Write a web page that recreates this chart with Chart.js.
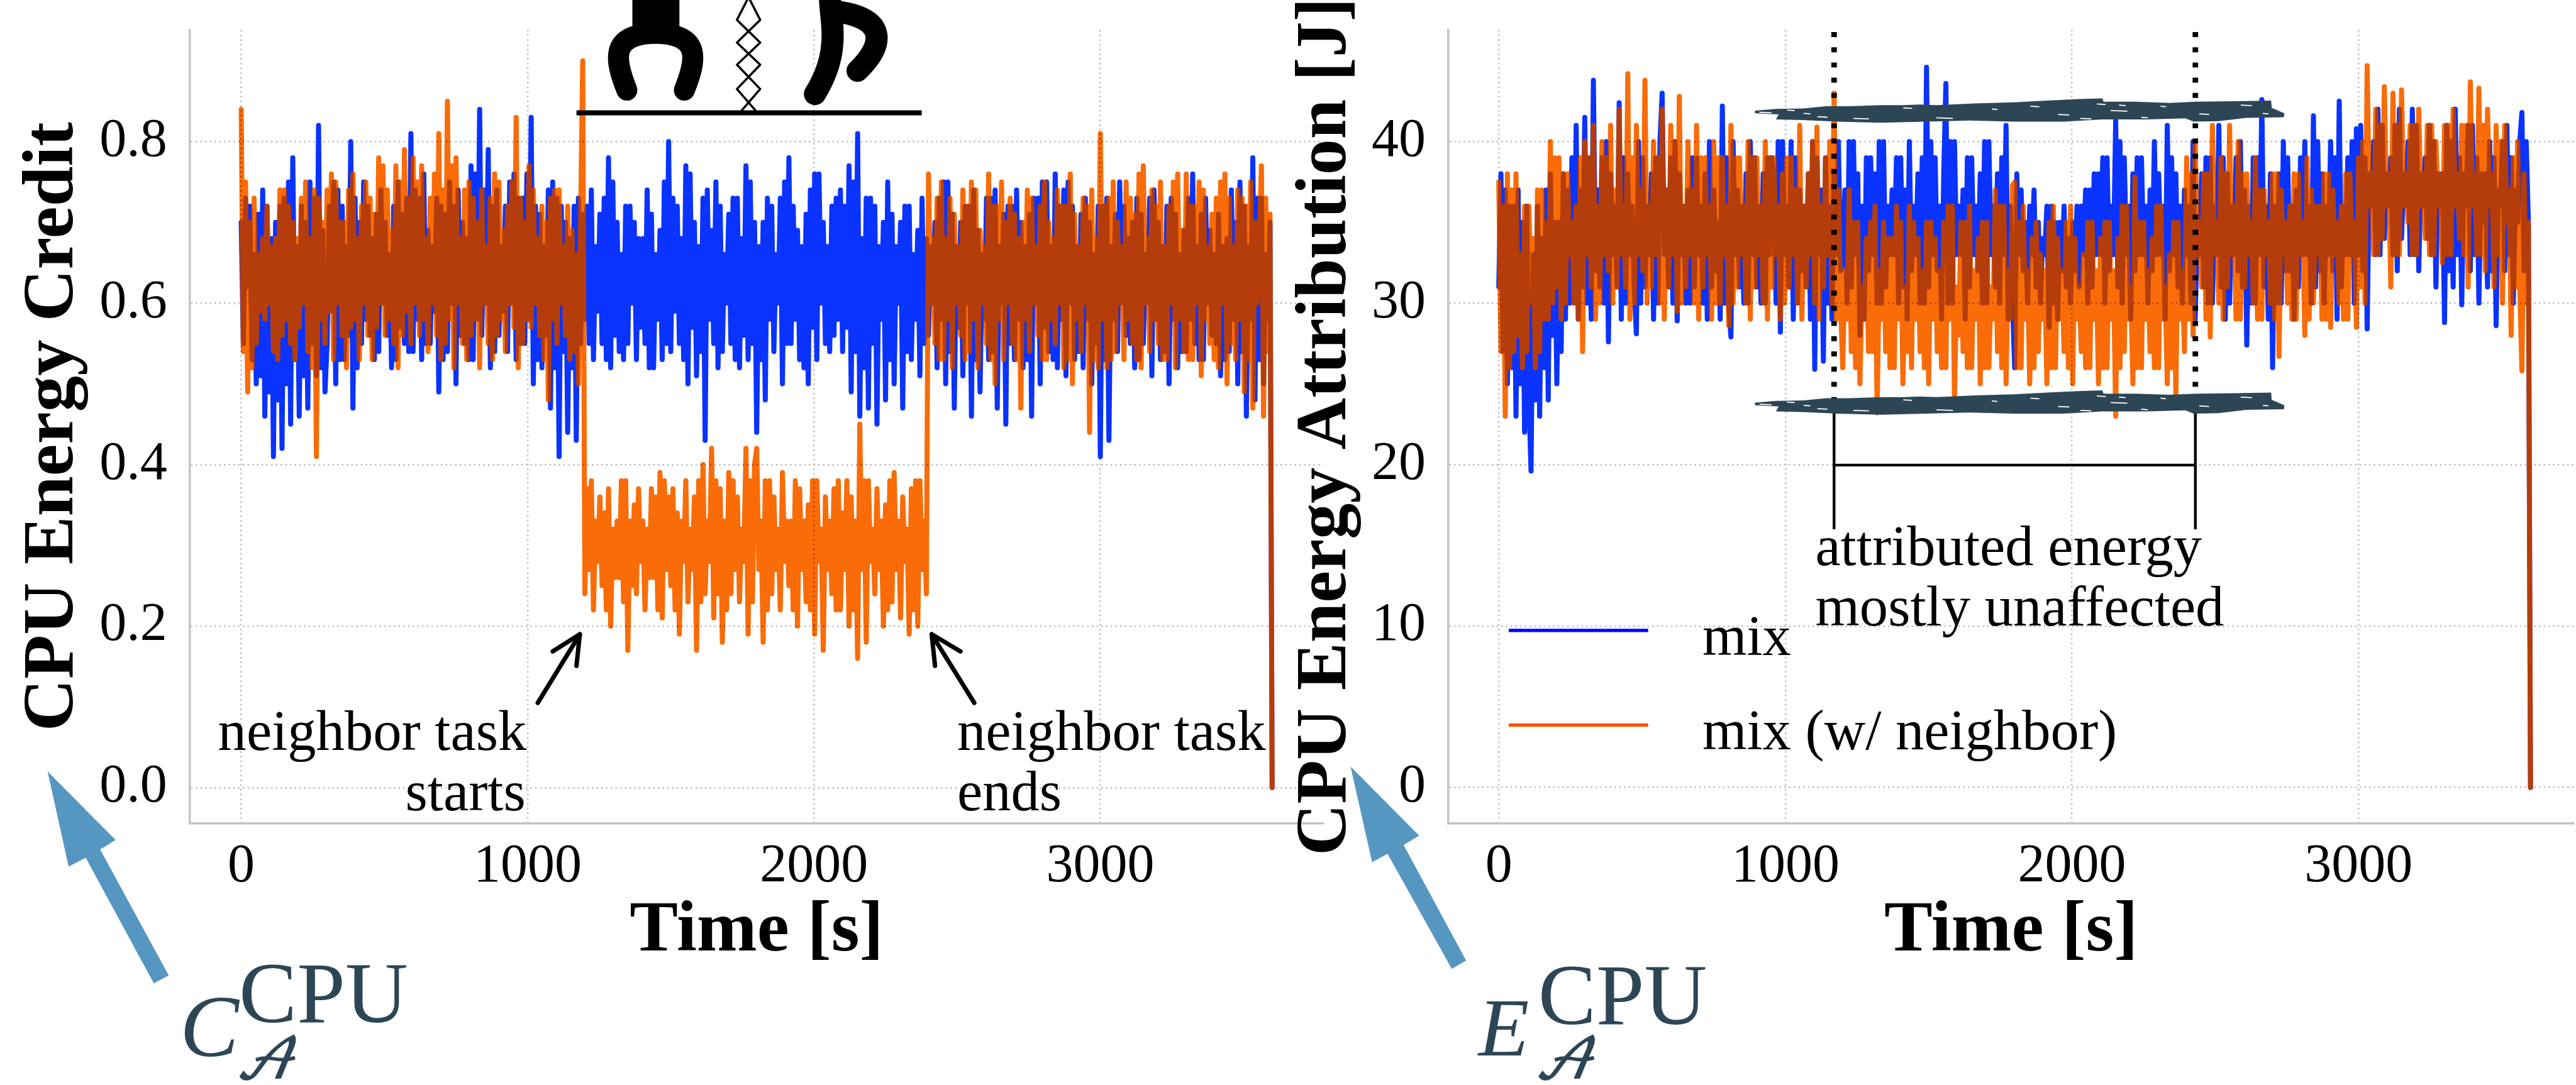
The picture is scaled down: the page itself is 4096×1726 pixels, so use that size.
<!DOCTYPE html>
<html lang="en">
<head>
<meta charset="UTF-8">
<title>CPU Energy Credit and Attribution</title>
<script src="https://cdnjs.cloudflare.com/ajax/libs/Chart.js/4.4.0/chart.umd.min.js"></script>
<style>
    html, body { margin: 0; padding: 0; background: #fff; overflow: hidden; }
    canvas { position: absolute; top: 0; }
    #credit { left: 0; }
    #attribution { left: 2050px; }
</style>
</head>
<body>
<canvas id="credit" width="2110" height="1726"></canvas>
<canvas id="attribution" width="2046" height="1726"></canvas>
<script>
const times = [
    0,7.5,15,22.5,30,37.5,45,52.5,60,67.5,75,82.5,90,97.5,105,112.5,120,127.5,135,142.5,150,157.5,165,172.5,180,187.5,195,202.5,210,217.5,225,232.5,240,247.5,255,262.5,270,277.5,285,292.5,
    300,307.5,315,322.5,330,337.5,345,352.5,360,367.5,375,382.5,390,397.5,405,412.5,420,427.5,435,442.5,450,457.5,465,472.5,480,487.5,495,502.5,510,517.5,525,532.5,540,547.5,555,562.5,570,577.5,585,592.5,
    600,607.5,615,622.5,630,637.5,645,652.5,660,667.5,675,682.5,690,697.5,705,712.5,720,727.5,735,742.5,750,757.5,765,772.5,780,787.5,795,802.5,810,817.5,825,832.5,840,847.5,855,862.5,870,877.5,885,892.5,
    900,907.5,915,922.5,930,937.5,945,952.5,960,967.5,975,982.5,990,997.5,1005,1012.5,1020,1027.5,1035,1042.5,1050,1057.5,1065,1072.5,1080,1087.5,1095,1102.5,1110,1117.5,1125,1132.5,1140,1147.5,1155,1162.5,1170,1177.5,1185,1192.5,
    1200,1207.5,1215,1222.5,1230,1237.5,1245,1252.5,1260,1267.5,1275,1282.5,1290,1297.5,1305,1312.5,1320,1327.5,1335,1342.5,1350,1357.5,1365,1372.5,1380,1387.5,1395,1402.5,1410,1417.5,1425,1432.5,1440,1447.5,1455,1462.5,1470,1477.5,1485,1492.5,
    1500,1507.5,1515,1522.5,1530,1537.5,1545,1552.5,1560,1567.5,1575,1582.5,1590,1597.5,1605,1612.5,1620,1627.5,1635,1642.5,1650,1657.5,1665,1672.5,1680,1687.5,1695,1702.5,1710,1717.5,1725,1732.5,1740,1747.5,1755,1762.5,1770,1777.5,1785,1792.5,
    1800,1807.5,1815,1822.5,1830,1837.5,1845,1852.5,1860,1867.5,1875,1882.5,1890,1897.5,1905,1912.5,1920,1927.5,1935,1942.5,1950,1957.5,1965,1972.5,1980,1987.5,1995,2002.5,2010,2017.5,2025,2032.5,2040,2047.5,2055,2062.5,2070,2077.5,2085,2092.5,
    2100,2107.5,2115,2122.5,2130,2137.5,2145,2152.5,2160,2167.5,2175,2182.5,2190,2197.5,2205,2212.5,2220,2227.5,2235,2242.5,2250,2257.5,2265,2272.5,2280,2287.5,2295,2302.5,2310,2317.5,2325,2332.5,2340,2347.5,2355,2362.5,2370,2377.5,2385,2392.5,
    2400,2407.5,2415,2422.5,2430,2437.5,2445,2452.5,2460,2467.5,2475,2482.5,2490,2497.5,2505,2512.5,2520,2527.5,2535,2542.5,2550,2557.5,2565,2572.5,2580,2587.5,2595,2602.5,2610,2617.5,2625,2632.5,2640,2647.5,2655,2662.5,2670,2677.5,2685,2692.5,
    2700,2707.5,2715,2722.5,2730,2737.5,2745,2752.5,2760,2767.5,2775,2782.5,2790,2797.5,2805,2812.5,2820,2827.5,2835,2842.5,2850,2857.5,2865,2872.5,2880,2887.5,2895,2902.5,2910,2917.5,2925,2932.5,2940,2947.5,2955,2962.5,2970,2977.5,2985,2992.5,
    3000,3007.5,3015,3022.5,3030,3037.5,3045,3052.5,3060,3067.5,3075,3082.5,3090,3097.5,3105,3112.5,3120,3127.5,3135,3142.5,3150,3157.5,3165,3172.5,3180,3187.5,3195,3202.5,3210,3217.5,3225,3232.5,3240,3247.5,3255,3262.5,3270,3277.5,3285,3292.5,
    3300,3307.5,3315,3322.5,3330,3337.5,3345,3352.5,3360,3367.5,3375,3382.5,3390,3397.5,3405,3412.5,3420,3427.5,3435,3442.5,3450,3457.5,3465,3472.5,3480,3487.5,3495,3502.5,3510,3517.5,3525,3532.5,3540,3547.5,3555,3562.5,3570,3577.5,3585,3592.5,3600
];

const creditMix = [
    .70,.55,.73,.62,.72,.53,.66,.50,.71,.51,.74,.46,.72,.49,.68,.41,.70,.48,.72,.42,.73,.50,.75,.45,.78,.53,.67,.46,.72,.51,.70,.47,.75,.55,.73,.51,.82,.52,.69,.49,
    .55,.72,.59,.75,.50,.74,.53,.72,.53,.67,.56,.80,.47,.73,.52,.70,.55,.75,.58,.72,.56,.68,.53,.71,.54,.74,.60,.70,.56,.66,.52,.72,.53,.75,.57,.71,.55,.73,.54,.81,
    .54,.74,.58,.73,.53,.76,.55,.69,.55,.67,.59,.73,.49,.72,.53,.71,.54,.75,.60,.72,.50,.74,.56,.70,.55,.68,.53,.77,.53,.76,.58,.84,.56,.74,.60,.79,.52,.72,.54,.74,
    .56,.67,.59,.72,.54,.75,.60,.76,.53,.73,.55,.73,.55,.76,.58,.83,.50,.72,.53,.71,.52,.67,.56,.74,.47,.75,.52,.73,.41,.72,.54,.70,.44,.68,.52,.72,.43,.73,.55,.71,
    .58,.72,.55,.74,.53,.67,.59,.71,.55,.73,.53,.78,.52,.75,.56,.70,.54,.66,.53,.72,.55,.72,.60,.70,.53,.68,.57,.68,.55,.74,.52,.71,.52,.66,.58,.69,.53,.75,.55,.80,
    .54,.73,.59,.72,.55,.68,.53,.77,.50,.76,.57,.70,.51,.67,.54,.73,.43,.74,.58,.69,.55,.75,.52,.72,.54,.66,.60,.71,.55,.73,.53,.73,.52,.68,.56,.77,.53,.75,.55,.70,
    .44,.67,.53,.70,.48,.73,.58,.72,.54,.66,.60,.73,.50,.75,.55,.78,.55,.72,.58,.69,.53,.67,.52,.71,.50,.74,.57,.76,.53,.76,.60,.70,.55,.67,.54,.72,.56,.73,.58,.74,
    .54,.72,.57,.77,.49,.75,.54,.81,.46,.68,.52,.73,.47,.73,.55,.72,.45,.67,.58,.70,.48,.75,.53,.71,.50,.67,.60,.70,.47,.72,.54,.72,.53,.66,.58,.69,.51,.73,.55,.68,
    .56,.67,.60,.70,.52,.73,.58,.75,.50,.75,.54,.71,.47,.67,.57,.70,.51,.72,.60,.72,.46,.74,.53,.69,.49,.66,.58,.73,.53,.73,.54,.74,.47,.67,.60,.71,.45,.72,.55,.72,
    .53,.74,.58,.70,.52,.67,.53,.71,.46,.73,.60,.73,.50,.75,.57,.75,.54,.67,.53,.76,.52,.72,.58,.74,.51,.75,.60,.72,.53,.67,.54,.71,.52,.73,.58,.70,.50,.66,.55,.72,
    .41,.72,.53,.73,.43,.67,.58,.71,.54,.75,.60,.72,.56,.68,.55,.70,.52,.73,.53,.71,.55,.66,.60,.73,.51,.74,.58,.70,.53,.67,.54,.72,.50,.73,.58,.71,.52,.66,.54,.69,
    .54,.73,.58,.76,.55,.67,.53,.71,.53,.73,.60,.69,.56,.66,.55,.71,.51,.67,.53,.68,.54,.74,.58,.70,.50,.75,.54,.72,.46,.67,.58,.78,.48,.73,.53,.73,.50,.66,.58,.70,0
];
const creditNeighbor = [
    .84,.54,.75,.49,.70,.52,.73,.55,.66,.59,.68,.58,.72,.60,.67,.54,.68,.53,.74,.56,.74,.58,.72,.55,.70,.53,.68,.57,.73,.60,.75,.54,.68,.52,.74,.41,.73,.58,.70,.55,
    .74,.59,.76,.53,.75,.60,.70,.56,.70,.52,.74,.57,.76,.58,.68,.53,.72,.60,.75,.56,.73,.53,.71,.57,.78,.60,.77,.56,.74,.58,.69,.55,.77,.52,.75,.56,.79,.59,.73,.55,
    .78,.60,.75,.56,.77,.58,.68,.54,.73,.60,.76,.56,.81,.53,.74,.55,.85,.58,.77,.52,.78,.60,.68,.55,.74,.53,.75,.56,.73,.58,.70,.52,.74,.60,.67,.55,.73,.53,.76,.56,
    .75,.58,.69,.54,.72,.60,.75,.57,.83,.52,.73,.55,.70,.58,.77,.57,.74,.60,.68,.56,.72,.53,.70,.48,.73,.58,.74,.55,.74,.60,.67,.56,.72,.53,.69,.54,.66,.50,.70,.90,
    .24,.37,.27,.38,.22,.33,.28,.36,.25,.34,.22,.37,.20,.32,.26,.33,.26,.38,.23,.38,.17,.33,.25,.35,.24,.37,.28,.33,.22,.32,.26,.37,.26,.36,.22,.39,.21,.38,.27,.36,
    .25,.37,.22,.34,.19,.33,.28,.38,.23,.32,.27,.36,.17,.38,.23,.40,.24,.33,.28,.42,.21,.38,.24,.37,.18,.33,.22,.39,.24,.38,.27,.36,.23,.32,.28,.42,.19,.38,.23,.40,
    .42,.27,.33,.18,.38,.22,.38,.24,.36,.27,.32,.22,.39,.28,.33,.25,.33,.22,.38,.20,.37,.27,.33,.23,.35,.22,.38,.19,.38,.28,.32,.17,.36,.27,.33,.24,.37,.22,.38,.22,
    .34,.27,.38,.20,.36,.22,.33,.16,.45,.27,.38,.18,.38,.28,.32,.24,.37,.27,.33,.20,.35,.22,.38,.23,.39,.27,.33,.21,.36,.28,.32,.19,.37,.22,.38,.20,.38,.27,.33,.24,
    .76,.60,.68,.55,.73,.53,.75,.53,.68,.58,.73,.52,.71,.60,.67,.56,.74,.53,.72,.54,.75,.58,.74,.52,.69,.60,.67,.55,.76,.53,.72,.50,.72,.58,.75,.53,.70,.60,.73,.55,
    .71,.53,.68,.47,.70,.58,.74,.54,.73,.60,.67,.56,.72,.53,.75,.53,.70,.58,.68,.55,.74,.60,.72,.52,.72,.53,.76,.50,.71,.58,.67,.54,.73,.60,.72,.44,.74,.53,.68,.52,
    .81,.58,.72,.52,.73,.53,.75,.54,.70,.60,.67,.53,.75,.58,.73,.55,.71,.53,.76,.52,.77,.60,.68,.54,.74,.58,.72,.55,.75,.53,.67,.53,.72,.60,.75,.52,.76,.58,.69,.54,
    .76,.53,.72,.53,.72,.60,.75,.51,.74,.58,.67,.55,.71,.53,.73,.52,.75,.60,.76,.50,.73,.55,.67,.53,.74,.58,.73,.49,.72,.53,.75,.47,.70,.60,.67,.77,.46,.73,.54,.71,0
];
const attributionMix = [
    31,38,27,37,25,36,26,36,23,37,25,35,22,36,24,19.6,33,24,36,23,34,26,37,24,38,28,35,25,35,27,38,29,37,30,39,30,41,29,37,31,
    41.5,30,39,29,43.8,32,37,31,39,30,40,27.6,38,33,36,31,42.4,29,39,30,38,33,36,31,28.1,40,30,39,31,36,33,38,29,39,30,40,43,33,37,31,
    39,30,40,28.9,38,33,36,30,37,30,39,31,39,33,36,30,38,29,40,31,37,32,35,29,42.2,30,39,30,27.9,40,33,37,31,36,30,38,30,40,33,39,
    31,36,30,38,30,39,33,39,37,30,40,28.2,40,33,36,31,40,29,39,30,37,32,36,31,38,29,40,25.9,39,33,37,26.4,39,30,36,29,38,33,40,32,
    33,37,30,40,31,40,33,38,28,36,29,39,32,39,33,38,30,40,30,40,31,36,33,37,33,39,30,39,31,37,29,40,32,36,33,38,30,39,30,44.6,
    31,40,33,39,32,36,29,38,43.6,30,40,30,40,33,36,33,37,29,39,31,39,33,36,32,38,30,40,30,40,33,36,31,38,30,39,33,41,29,36,30,
    26,38,33,37,32,35,30,36,33,37,31,35,30,34,33,36,28.5,36,30,35,29,35,32,36,31,34,30,35,32,36,31,36,33,37,30,37,31,38,33,38,
    33,39,30,39,32,36,33,41.3,31,40,30,39,33,36,29,38,32,39,33,39,33,36,30,37,32,40,33,38,33,36,29,41,32,39,33,38,31,36,30,37,
    33,36,30,40,29,35,33,38,31,39,30,39,30,36,33,41,31,39,29,38,30,36,33,39,32,40,31,37,27.4,36,30,39,30,39,33,42.6,31,36,29,38,
    26,36,30,38,30,40,32,39,32,36,29,37,31,39,33,40,33,36,30,41.6,31,40,32,38,30,36,33,40,32,39,29,42.5,31,36,33,39,33,40,30,40.8,
    33,41,32,39,28.4,38,36,40,33,42,33,41,34,38,36,39,33,41,32,42,34,38,36,40,33,42,33,41,32,38,36,39,34,41,33,40,31,38,36,38,
    28.8,41,32,40,31,42,33,39,29.9,38,36,41,32,41,33,39,30,38,35,38,31,40,32,39,28.6,37,36,40,32,41,33,39,30,37,35,40,41.8,32,40,35,0
];
const attributionNeighbor = [
    37.5,27,36,23,38,26,37,27,38,28,33,26,36,27,36,30,34,26,37,27,37,29,35,29,40,30,39,31,39,29,38,30,38,33,35,30,36,29,39,27,
    40,33,39,31,41,29,36,30,40,33,39,32,41,30,37,31,42,33,36,31,44.2,29,39,30,41,33,37,32,43.8,30,36,31,40,33,39,30,42,29,37,31,
    41,33,40,29.5,42.8,30,36,31,40,33,37,30,41,29,39,31,39,33,36,29,40,30,39,30,39,33,36,28.6,41,30,39,31,39,33,36,30,40,29,39,31,
    39,33,36,30,40,29,39,31,39,33,36,29,38,30,39,31,39,33,37,30,41,29,36,31,38,33,40,30,40.9,29,36,31,39,33,40,30,43,29,37,30,
    26,32,29,37,27,35,26,35,25,31,29,34,27,35,27,36,23.2,32,29,35,27,34,26,34,26,36,29,35,25,31,27,36,26,35,29,34,27,32,26,35,
    25,35,29,34,27,32,26,35,26,36,29,36,24,31,28,35,27,35,26,36,26,32,29,34,25,35,26,35,26,31,29,37,27,36,26,36,25,32,29,37.3,
    37.5,26,35,26,36,29,32,25,34,26,35,27,33,29,32,25,35,26,36,26,34,29,32,27,35,26,36,25,34,29,31,27,33,26,35,26,35,29,32,25,
    34,26,35,26,35,29,32,23,34,26,36,27,36,29,31,25,37.8,26,35,26,35,29,32,27,34,26,36,26,36,29,31,25,33,26,35,24.2,35,29,32,27,
    39,29,38,28,40,33,35,31,38,29,38,27.9,41,33,35,30,39,29,38,31,41,33,36,29,40,29,38,31,38,33,35,30,39,29,37,29,37,33,35,30,
    38,29,38,26.7,37,33,35,30,36,29,38,29,38,33,35,28,39,29,37,30,36,33,36,29,38,29,38,28.5,37,33,35,30,36,29,38,29,38,33,35,28.5,
    39,31,40,30,44.7,36,38,33,42,33,41,34,43.4,36,38,31,43,33,41,33,43.2,36,38,35,41,33,41,33,42,36,38,34,41,33,41,33,40,36,38,32.5,
    41,33,41,33,42,36,38,34,41,33,41,31,43.7,36,38,33,43.3,33,41,32,42,36,38,31,41,33,40,30,41,35,37,28,39,31,40,31,25.8,38,30,35,0
];

const seriesLabels = ["mix", "mix (w/ neighbor)"];
const timeTicks = [0, 1000, 2000, 3000];
const creditTicks = [0, 0.2, 0.4, 0.6, 0.8];
const attributionTicks = [0, 10, 20, 30, 40];

const SCALE = 4096 / 4656;   // reference px -> window px
const SERIF = '"Liberation Serif", "Times New Roman", serif';
const INK = "#2d4656";
const ARROW_BLUE = "#5597c1";
const BLUE = "#0a33ff";
const ORANGE = "#f96c08";
const OVERLAP = "#b53d0b";
const TRACE_WIDTH = 8;

// orange goes dark only where it crosses the blue trace: stroke the dark colour
// on top of what is already there, then the plain orange underneath the rest
const overlapBlend = {
    id: "overlapBlend",
    beforeDatasetDraw(chart, args) {
        if (args.index === 1) chart.ctx.globalCompositeOperation = "source-atop";
    },
    afterDatasetDraw(chart, args) {
        if (args.index !== 1) return;
        const ctx = chart.ctx;
        const area = chart.chartArea;
        ctx.save();
        ctx.beginPath();
        ctx.rect(area.left, area.top, area.width, area.height);
        ctx.clip();
        ctx.globalCompositeOperation = "destination-over";
        ctx.strokeStyle = ORANGE;
        ctx.lineWidth = TRACE_WIDTH;
        ctx.lineJoin = "round";
        ctx.lineCap = "round";
        ctx.beginPath();
        args.meta.dataset.path(ctx);
        ctx.stroke();
        ctx.restore();
        ctx.globalCompositeOperation = "source-over";
    }
};

// notes are drawn in reference pixels, the overlay scales them down
function overlay(id, left, draw) {
    return {
        id: id,
        afterDatasetsDraw(chart) {
            const ctx = chart.ctx;
            ctx.save();
            ctx.translate(-left, 0);
            ctx.scale(SCALE, SCALE);
            ctx.lineCap = "butt";
            ctx.lineJoin = "round";
            ctx.setLineDash([]);
            ctx.textBaseline = "alphabetic";
            draw(ctx);
            ctx.restore();
        }
    };
}

function line(ctx, pts, width, color) {
    ctx.beginPath();
    pts.forEach((p, i) => i ? ctx.lineTo(p[0], p[1]) : ctx.moveTo(p[0], p[1]));
    ctx.lineWidth = width;
    ctx.strokeStyle = color || "#000";
    ctx.stroke();
}

function polygon(ctx, pts, color) {
    ctx.beginPath();
    pts.forEach((p, i) => i ? ctx.lineTo(p[0], p[1]) : ctx.moveTo(p[0], p[1]));
    ctx.closePath();
    ctx.fillStyle = color;
    ctx.fill();
}

function text(ctx, str, x, y, font, color, align) {
    ctx.font = font;
    ctx.fillStyle = color || "#000";
    ctx.textAlign = align || "left";
    ctx.fillText(str, x, y);
}

// the script A subscript comes out thin, thicken it a little
function scriptA(ctx, x, y) {
    text(ctx, "\u{1D49C}", x, y, "italic 100px 'DejaVu Math TeX Gyre', " + SERIF, INK);
    ctx.strokeStyle = INK;
    ctx.lineWidth = 2;
    ctx.strokeText("\u{1D49C}", x, y);
}

function drawGrippers(ctx) {
    ctx.fillStyle = "#000";
    ctx.fillRect(1143, 0, 85, 60);
    ctx.strokeStyle = "#000";
    ctx.lineCap = "round";
    ctx.lineWidth = 38;
    ctx.beginPath();
    ctx.moveTo(1133, 163);
    ctx.bezierCurveTo(1112, 110, 1100, 62, 1185, 60);
    ctx.bezierCurveTo(1270, 62, 1258, 110, 1237, 163);
    ctx.stroke();
    ctx.lineWidth = 40;
    ctx.beginPath();
    ctx.moveTo(1500, -10);
    ctx.bezierCurveTo(1500, 40, 1522, 90, 1473, 170);
    ctx.stroke();
    ctx.beginPath();
    ctx.moveTo(1520, 22);
    ctx.bezierCurveTo(1600, 35, 1600, 80, 1550, 128);
    ctx.stroke();
    ctx.lineCap = "butt";
    // the twisted link between them
    line(ctx, [[1353,-5],[1332,36],[1374,77],[1332,117],[1374,161],[1337,204]], 4);
    line(ctx, [[1353,-5],[1374,36],[1332,77],[1374,117],[1332,161],[1369,204]], 4);
}

function drawCreditNotes(ctx) {
    drawGrippers(ctx);
    line(ctx, [[1042, 204], [1666, 204]], 9);
    ctx.lineCap = "round";
    line(ctx, [[972, 1271], [1048, 1147]], 8);
    line(ctx, [[999, 1178], [1048, 1147], [1042, 1204]], 8);
    line(ctx, [[1761, 1271], [1684, 1147]], 8);
    line(ctx, [[1736, 1178], [1684, 1147], [1690, 1204]], 8);
    ctx.lineCap = "butt";
    const note = "103px " + SERIF;
    text(ctx, "neighbor task", 394, 1356, note);
    text(ctx, "starts", 950, 1465, note, "#000", "right");
    text(ctx, "neighbor task", 1730, 1356, note);
    text(ctx, "ends", 1730, 1465, note);
    polygon(ctx, [[86,1395],[209,1519],[181,1536],[305,1764],[278,1778],[155,1551],[124,1567]], ARROW_BLUE);
    text(ctx, "C", 325, 1910, "italic 160px " + SERIF, INK);
    text(ctx, "CPU", 432, 1848, "157px " + SERIF, INK);
    scriptA(ctx, 425, 1950);
}

// hand sketched marker stroke, used twice
const strokeEdge = [
    [3172,200],[3210,197],[3260,196],[3300,192],[3340,192],[3400,190],[3440,190],[3470,189],[3500,190],
    [3570,187],[3640,185],[3700,182],[3760,179],[3800,178],[3802,184],[3860,184],[3920,186],[3970,184],
    [4040,183],[4105,182],[4106,195],[4129,205],[4128,212],[4060,213],[4010,219],[3965,220],[3950,214],
    [3880,216],[3800,216],[3730,220],[3640,220],[3560,218],[3480,220],[3400,222],[3320,220],[3260,217],
    [3210,216],[3215,207],[3172,205]
];
const strokeGaps = [
    [3180,203,22],[3230,199,14],[3285,211,18],[3350,214,28],[3440,195,16],[3500,213,30],[3600,197,10],
    [3670,192,16],[3720,207,20],[3790,188,16],[3815,200,30],[3830,190,12],[3870,212,12],[3905,192,10],
    [3975,206,18],[4050,190,20],[4090,205,10],[3260,205,12],[3760,214,20]
];

function drawMarker(ctx, dy) {
    polygon(ctx, strokeEdge.map(p => [p[0], p[1] + dy]), INK);
    strokeGaps.forEach(g => line(ctx, [[g[0], g[1] + dy], [g[0] + g[2], g[1] + dy + 1]], 2, "#fff"));
}

function drawAttributionNotes(ctx) {
    ctx.setLineDash([9, 18.5]);
    line(ctx, [[3315, 58], [3315, 725]], 10);
    line(ctx, [[3968, 58], [3968, 725]], 10);
    ctx.setLineDash([]);
    line(ctx, [[3315, 725], [3315, 957]], 5);
    line(ctx, [[3968, 725], [3968, 957]], 5);
    line(ctx, [[3315, 841], [3968, 841]], 5);
    drawMarker(ctx, 0);
    drawMarker(ctx, 528);
    const note = "103px " + SERIF;
    text(ctx, "attributed energy", 3281, 1022, note);
    text(ctx, "mostly unaffected", 3281, 1131, note);
    // legend
    line(ctx, [[2727, 1140], [2979, 1140]], 6, "#0000ff");
    line(ctx, [[2727, 1311], [2979, 1311]], 6, "#ff4f00");
    text(ctx, seriesLabels[0], 3077, 1185, note);
    text(ctx, seriesLabels[1], 3077, 1355, note);
    polygon(ctx, [[2441,1386],[2565,1511],[2537,1528],[2650,1737],[2624,1752],[2508,1544],[2480,1559]], ARROW_BLUE);
    text(ctx, "E", 2672, 1909, "italic 150px " + SERIF, INK);
    text(ctx, "CPU", 2780, 1852, "157px " + SERIF, INK);
    scriptA(ctx, 2773, 1950);
}

function makeChart(id, cfg) {
    const toPoints = values => values.map((v, i) => ({ x: times[i], y: v }));
    const traceStyle = { borderWidth: TRACE_WIDTH, tension: 0, pointRadius: 0, borderJoinStyle: "round", borderCapStyle: "round" };
    const canvas = document.getElementById(id);
    return new Chart(canvas, {
        type: "line",
        data: {
            datasets: [
                { ...traceStyle, label: seriesLabels[0], data: toPoints(cfg.mix), borderColor: BLUE, order: 2 },
                { ...traceStyle, label: seriesLabels[1], data: toPoints(cfg.neighbor), borderColor: OVERLAP, order: 1 }
            ]
        },
        plugins: [overlapBlend, overlay(id + "Notes", cfg.left, cfg.notes)],
        options: {
            responsive: false,
            animation: false,
            devicePixelRatio: 1,
            parsing: { xAxisKey: "x", yAxisKey: "y" },
            layout: { padding: { top: 54 * SCALE, right: cfg.rightGap, left: 0, bottom: 0 } },
            plugins: { legend: { display: false }, tooltip: { enabled: false } },
            scales: {
                x: {
                    type: "linear",
                    min: cfg.xMin,
                    max: cfg.xMax,
                    afterBuildTicks: s => { s.ticks = timeTicks.map(v => ({ value: v })); },
                    afterFit: s => { s.height = 1726 - 1489 * SCALE; s.paddingLeft = 0; s.paddingRight = 0; },
                    grid: { color: "#bdbdbd", lineWidth: 2.5, drawTicks: false },
                    border: { color: "#c4c4c4", width: 3.5, dash: [2.5, 5] },
                    ticks: {
                        color: "#000", padding: 18, autoSkip: false, maxRotation: 0,
                        font: { family: SERIF, size: 86 },
                        callback: v => String(v)
                    },
                    title: {
                        display: true, text: "Time [s]", color: "#000",
                        font: { family: SERIF, size: 115, weight: "bold", lineHeight: 1 },
                        padding: { top: 0, bottom: 186 }
                    }
                },
                y: {
                    min: cfg.yMin,
                    max: cfg.yMax,
                    afterBuildTicks: s => { s.ticks = cfg.yTicks.map(v => ({ value: v })); },
                    afterFit: s => { s.width = cfg.plotLeft; s.paddingTop = 0; s.paddingBottom = 0; },
                    grid: { color: "#bdbdbd", lineWidth: 2.5, drawTicks: false },
                    border: { color: "#c4c4c4", width: 3.5, dash: [2.5, 5] },
                    ticks: {
                        color: "#000", padding: 36, autoSkip: false,
                        font: { family: SERIF, size: 86 },
                        callback: cfg.yFormat
                    },
                    title: {
                        display: true, text: cfg.yTitle, color: "#000",
                        font: { family: SERIF, size: cfg.yTitleSize, weight: "bold", lineHeight: 1 },
                        padding: { top: cfg.yTitlePad, bottom: 0 }
                    }
                }
            }
        }
    });
}

makeChart("credit", {
    mix: creditMix,
    neighbor: creditNeighbor,
    left: 0,
    notes: drawCreditNotes,
    plotLeft: 343 * SCALE,
    rightGap: 2110 - 2392 * SCALE,
    xMin: -179.7,
    xMax: 3779,
    yMin: -0.0445,
    yMax: 0.9384,
    yTicks: creditTicks,
    yFormat: v => v.toFixed(1),
    yTitle: "CPU Energy Credit",
    yTitleSize: 115,
    yTitlePad: 28
});

makeChart("attribution", {
    mix: attributionMix,
    neighbor: attributionNeighbor,
    left: 2050,
    notes: drawAttributionNotes,
    plotLeft: 2618 * SCALE - 2050,
    rightGap: 2046 - (4652 * SCALE - 2050),
    xMin: -175.7,
    xMax: 3751,
    yMin: -2.23,
    yMax: 46.92,
    yTicks: attributionTicks,
    yFormat: v => String(v),
    yTitle: "CPU Energy Attribution [J]",
    yTitleSize: 114,
    yTitlePad: 3
});
</script>
</body>
</html>
